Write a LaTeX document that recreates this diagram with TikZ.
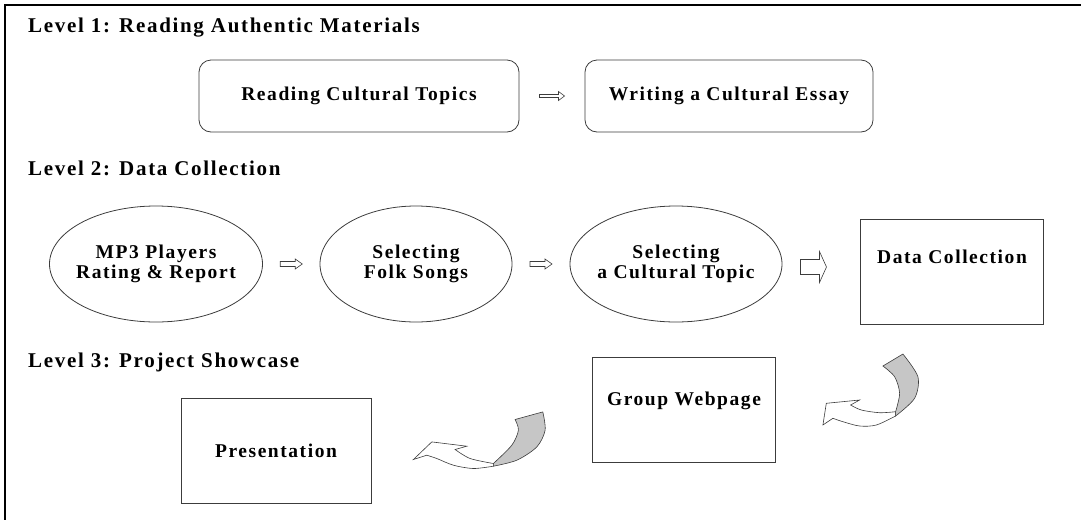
\documentclass[tikz,border=0pt]{standalone}
\usepackage{fontspec}
\setmainfont{Liberation Serif}[LetterSpace=8]
\usetikzlibrary{shapes.geometric,calc}
\definecolor{inkgray}{HTML}{3C3C3C}
\definecolor{curlgray}{HTML}{C6C6C6}
\tikzset{
  lvl/.style={anchor=west,inner sep=0pt,font=\fontsize{21}{23}\selectfont\bfseries},
  rbox/.style={draw=inkgray,line width=.8pt,rounded corners=12pt,minimum height=72pt,font=\fontsize{19.5}{21}\selectfont\bfseries},
  bubble/.style={ellipse,draw=inkgray,line width=.8pt,inner xsep=-30pt,inner ysep=0pt,minimum height=116pt,align=center,font=\fontsize{19.5}{20}\selectfont\bfseries},
  sqbox/.style={draw=inkgray,line width=.8pt,minimum width=183pt,minimum height=105pt,font=\fontsize{19.5}{21}\selectfont\bfseries},
  pics/blockarr/.style n args={4}{code={\draw[inkgray,fill=white,line width=.6pt] ({-#1/2},-#2)--({#1/2-#4},-#2)--({#1/2-#4},-#3)--({#1/2},0)--({#1/2-#4},#3)--({#1/2-#4},#2)--({-#1/2},#2)--cycle;}}
}

\begin{document}
\begin{tikzpicture}[x=1pt,y=-1pt]
\useasboundingbox (0,0) rectangle (1081,520);
\draw[line width=1.6pt] (1081,5)--(5,5)--(5,520);
\node[lvl] (lv1) at (28,28) {Level 1: Reading Authentic Materials};
\node[rbox,minimum width=320pt] (rct) at (359,96) {Reading Cultural Topics};
\node[rbox,minimum width=288pt] (wce) at (729,96) {Writing a Cultural Essay};
\node[lvl] (lv2) at (28,168) {Level 2: Data Collection};
\node[bubble,minimum width=213pt] (mp3) at (156,264) {MP3 Players\\Rating \& Report};
\node[bubble,minimum width=192pt] (folk) at (416,264) {Selecting\\Folk Songs};
\node[bubble,minimum width=212pt] (topic) at (676,264) {Selecting\\a Cultural Topic};
\node[sqbox,text height=14pt,text depth=30pt] (dc) at (952,271.5) {Data Collection};
\node[lvl] (lv3) at (28,362) {Level 3: Project Showcase};
\node[sqbox,text height=14pt,text depth=23pt] (web) at (684,410) {Group Webpage};
\node[sqbox,minimum width=190pt] (pres) at (276,450.5) {Presentation};
% open block arrows between the steps
\pic at ($(rct.east)!.5!(wce.west)$) {blockarr={25}{1.5}{4.5}{6}};
\pic at ($(mp3.east)!.5!(folk.west)$) {blockarr={22}{2.5}{5}{7}};
\pic at ($(folk.east)!.5!(topic.west)$) {blockarr={22}{2.5}{5}{7}};
\pic at ($(topic.east)!.4!(dc.west)$) {blockarr={26}{7.5}{15.5}{7}};
% curled arrows, level 3
\coordinate (tipA) at ($(web.east)+(47,15)$);
\coordinate (tipB) at ($(pres.east)+(42,9)$);
\begin{scope}[shift={(tipA)},inkgray,line width=.6pt]
\draw[fill=white] (0,0)--(3.4,-21.7)--(36.7,-25)--(27.7,-20)--plot[smooth] coordinates {(27.7,-20)(38.4,-15)(56.7,-12.3)(72.7,-13.3)}--(72.7,-9)--plot[smooth] coordinates {(72.7,-9)(53.4,0)(36.7,1)(20,-3.3)(10,-6.7)}--cycle;
\draw[fill=curlgray] (60,-59)--(80,-71)--plot[smooth] coordinates {(80,-71)(95,-48.3)(91.7,-26.7)(72.7,-9)}--(72.7,-13.3)--plot[smooth] coordinates {(72.7,-13.3)(76.7,-31.7)(71.7,-48.3)(60,-59)}--cycle;
\end{scope}
\begin{scope}[shift={(tipB)},inkgray,line width=.6pt]
\draw[fill=white] (0,0)--(18.4,-17.6)--(53.4,-13.3)--(41.7,-10)--plot[smooth] coordinates {(41.7,-10)(56.7,-1)(80,4)}--(80,6.7)--plot[smooth] coordinates {(80,6.7)(60,9)(40,5.7)(23.4,-1)(13.4,-4.3)}--cycle;
\draw[fill=curlgray] (101.7,-40)--(129.4,-47.6)--plot[smooth] coordinates {(129.4,-47.6)(131.7,-29.3)(123.4,-12.6)(103.4,0.7)(80,6.7)}--(80,4)--plot[smooth] coordinates {(80,4)(98.4,-14.3)(105,-29.3)(101.7,-40)}--cycle;
\end{scope}
\end{tikzpicture}
\end{document}
